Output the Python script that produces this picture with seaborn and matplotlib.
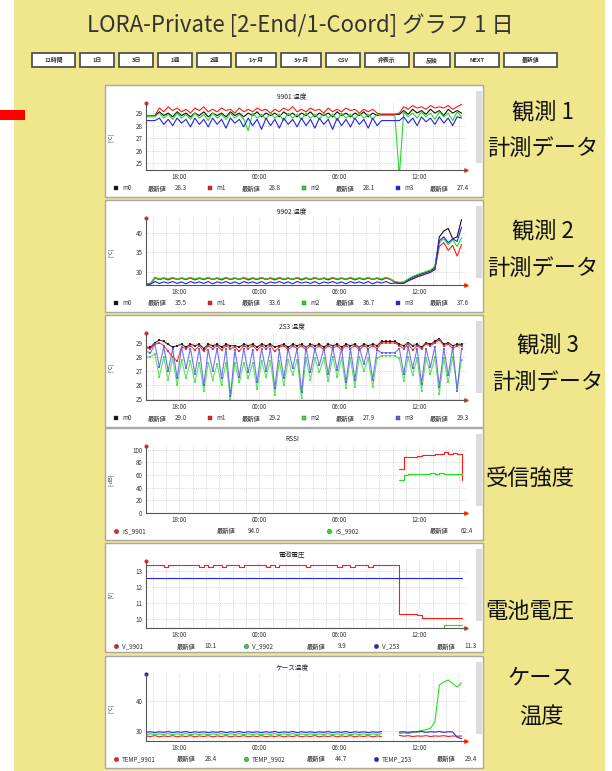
# -*- coding: utf-8 -*-
# LORA-Private グラフ1日 画面の再現
import numpy as np
import pandas as pd
import matplotlib
matplotlib.use("Agg")
import matplotlib.pyplot as plt
import matplotlib.dates as mdates
from matplotlib.patches import Rectangle
import seaborn as sns

sns.set_style("white")
plt.rcParams['font.family'] = ['Noto Sans CJK JP', 'DejaVu Sans']

# 時刻 (20分毎, 15:30 開始)
tiempos = pd.date_range("2019-05-20 15:30", periods=72, freq="20min")

# ---- 観測1 (9901 温度) ----
t1_m0 = [28.8, 28.8, 28.8, 29.1, 28.8, 29.0, 28.7, 29.1, 28.8, 29.0, 28.7, 29.0,
         28.8, 29.1, 28.7, 29.0, 28.8, 29.0, 28.7, 29.1, 28.8, 29.0, 28.7, 29.0,
         28.8, 29.1, 28.7, 29.0, 28.8, 29.0, 28.7, 29.1, 28.8, 29.0, 28.7, 29.0,
         28.8, 29.1, 28.7, 29.0, 28.8, 29.0, 28.7, 29.1, 28.8, 29.0, 28.7, 29.0,
         28.8, 29.1, 28.7, 29.0, 28.8, 28.9, 28.9, 28.9, 28.9, 28.9, 29.2, 28.9,
         29.3, 29.0, 29.2, 28.9, 29.3, 29.0, 29.2, 28.8, 29.3, 29.0, 29.2, 29.0]
t1_m1 = [28.8, 28.8, 28.8, 29.4, 29.1, 29.5, 29.2, 29.4, 29.1, 29.3, 29.0, 29.4,
         29.2, 29.5, 29.1, 29.3, 29.1, 29.4, 29.2, 29.3, 29.0, 29.4, 29.1, 29.3,
         29.1, 29.4, 29.2, 29.3, 29.0, 29.3, 29.1, 29.4, 29.2, 29.5, 29.1, 29.3,
         29.1, 29.4, 29.2, 29.3, 29.0, 29.4, 29.1, 29.3, 29.1, 29.4, 29.2, 29.3,
         29.0, 29.3, 29.1, 29.3, 29.0, 28.9, 28.9, 28.9, 28.9, 29.0, 29.5, 29.3,
         29.6, 29.4, 29.5, 29.3, 29.6, 29.4, 29.5, 29.4, 29.6, 29.3, 29.5, 29.7]
t1_m2 = [28.7, 28.7, 28.7, 29.0, 28.6, 28.9, 28.5, 29.0, 28.6, 28.9, 28.5, 29.0,
         28.6, 28.9, 28.4, 29.0, 28.6, 28.9, 28.5, 29.0, 28.6, 28.9, 28.5, 27.6,
         29.0, 28.6, 28.9, 28.5, 29.0, 28.6, 28.9, 28.4, 29.0, 28.6, 28.9, 28.5,
         29.0, 28.6, 28.9, 28.5, 29.0, 28.6, 28.9, 28.4, 29.0, 28.6, 28.9, 28.5,
         29.0, 28.6, 28.9, 28.5, 28.9, 28.8, 28.8, 28.8, 28.8, 24.0, 29.1, 28.7,
         29.0, 28.6, 29.1, 28.7, 29.0, 28.5, 29.1, 28.7, 29.0, 28.4, 29.1, 28.7]
t1_m3 = [28.4, 28.4, 28.4, 28.6, 28.1, 28.5, 28.0, 28.6, 28.2, 28.5, 27.9, 28.6,
         28.1, 28.5, 27.9, 28.6, 28.1, 28.5, 27.8, 28.6, 28.2, 28.5, 27.9, 28.6,
         28.0, 28.5, 27.7, 28.6, 28.0, 28.5, 27.8, 28.6, 28.1, 28.5, 27.9, 28.6,
         28.0, 28.5, 27.8, 28.6, 28.1, 28.5, 27.7, 28.6, 28.0, 28.5, 27.9, 28.6,
         28.1, 28.5, 27.8, 28.6, 28.0, 28.4, 28.4, 28.4, 28.4, 28.4, 28.7, 28.2,
         28.6, 28.0, 28.7, 28.3, 28.6, 28.1, 28.7, 28.2, 28.6, 28.0, 28.7, 28.6]

# ---- 観測2 (9902 温度) ----
t2_m0 = [26.8, 26.8, 28.4, 28.0, 28.3, 27.9, 28.4, 28.0, 28.3, 28.0, 28.4, 27.9,
         28.3, 28.0, 28.4, 28.0, 28.3, 27.9, 28.4, 28.0, 28.3, 28.0, 28.4, 27.9,
         28.3, 28.0, 28.4, 28.0, 28.3, 27.9, 28.4, 28.0, 28.3, 28.0, 28.4, 27.9,
         28.3, 28.0, 28.4, 28.0, 28.3, 27.9, 28.4, 28.0, 28.3, 28.0, 28.4, 27.9,
         28.3, 28.0, 28.4, 28.0, 28.3, 27.9, 28.4, 28.0, 27.3, 27.1, 27.2, 27.9,
         28.5, 29.0, 29.4, 29.8, 30.2, 31.0, 39.0, 40.5, 41.2, 38.5, 39.0, 43.5]
t2_m1 = [26.8, 26.8, 28.3, 27.9, 28.2, 27.8, 28.3, 27.9, 28.2, 27.9, 28.3, 27.8,
         28.2, 27.9, 28.3, 27.9, 28.2, 27.8, 28.3, 27.9, 28.2, 27.9, 28.3, 27.8,
         28.2, 27.9, 28.3, 27.9, 28.2, 27.8, 28.3, 27.9, 28.2, 27.9, 28.3, 27.8,
         28.2, 27.9, 28.3, 27.9, 28.2, 27.8, 28.3, 27.9, 28.2, 27.9, 28.3, 27.8,
         28.2, 27.9, 28.3, 27.9, 28.2, 27.8, 28.3, 27.9, 27.2, 27.0, 27.1, 27.6,
         28.1, 28.6, 29.0, 29.4, 29.8, 30.6, 36.5, 37.5, 35.5, 36.8, 34.0, 37.0]
t2_m2 = [26.9, 26.9, 28.5, 28.1, 28.4, 28.1, 28.5, 28.0, 28.4, 28.1, 28.5, 28.1,
         28.4, 28.1, 28.5, 28.0, 28.4, 28.1, 28.5, 28.1, 28.4, 28.0, 28.5, 28.1,
         28.4, 28.1, 28.5, 28.0, 28.4, 28.1, 28.5, 28.1, 28.4, 28.0, 28.5, 28.1,
         28.4, 28.1, 28.5, 28.0, 28.4, 28.1, 28.5, 28.1, 28.4, 28.0, 28.5, 28.1,
         28.4, 28.1, 28.5, 28.0, 28.4, 28.1, 28.5, 28.1, 27.4, 27.2, 27.3, 28.1,
         28.7, 29.2, 29.6, 30.0, 30.4, 31.3, 37.5, 38.5, 37.0, 38.2, 36.5, 38.8]
t2_m3 = [26.7, 26.7, 27.4, 26.9, 27.3, 27.0, 27.4, 26.9, 27.3, 26.8, 27.4, 27.0,
         27.3, 26.9, 27.4, 26.8, 27.3, 27.0, 27.4, 26.9, 27.3, 26.8, 27.4, 27.0,
         27.3, 26.9, 27.4, 26.8, 27.3, 27.0, 27.4, 26.9, 27.3, 26.8, 27.4, 27.0,
         27.3, 26.9, 27.4, 26.8, 27.3, 27.0, 27.4, 26.9, 27.3, 26.8, 27.4, 27.0,
         27.3, 26.9, 27.4, 26.8, 27.3, 27.0, 27.4, 26.9, 27.0, 26.9, 26.9, 27.6,
         28.1, 28.6, 29.0, 29.4, 29.8, 30.5, 38.0, 39.0, 37.5, 38.5, 37.8, 41.5]

# ---- 観測3 (2S3 温度) ----
t3_m0 = [28.7, 28.7, 29.0, 29.2, 29.1, 28.9, 28.7, 28.8, 28.9, 28.7, 28.9, 28.8,
         28.9, 28.6, 28.9, 28.8, 28.9, 28.7, 28.9, 28.8, 28.8, 28.7, 28.9, 28.8,
         28.9, 28.7, 28.9, 28.8, 28.9, 28.7, 28.8, 28.9, 28.7, 28.9, 28.8, 28.9,
         28.7, 28.9, 28.8, 28.9, 28.7, 28.9, 28.8, 28.9, 28.7, 28.9, 28.8, 28.9,
         28.7, 28.9, 28.8, 28.9, 28.8, 29.1, 29.1, 29.1, 29.1, 28.9, 28.8, 29.0,
         28.8, 28.9, 28.7, 29.0, 28.9, 29.1, 29.3, 28.9, 29.0, 28.8, 28.9, 28.9]
t3_m1 = [28.6, 28.6, 28.9, 29.0, 28.8, 28.4, 28.0, 27.7, 28.7, 28.6, 28.8, 28.5,
         28.8, 28.4, 28.8, 28.6, 28.8, 28.5, 28.8, 28.6, 28.7, 28.4, 28.8, 28.6,
         28.8, 28.5, 28.8, 28.6, 28.8, 28.4, 28.7, 28.8, 28.5, 28.8, 28.6, 28.8,
         28.5, 28.8, 28.6, 28.8, 28.5, 28.8, 28.6, 28.8, 28.5, 28.8, 28.6, 28.8,
         28.5, 28.8, 28.6, 28.8, 28.6, 29.0, 29.0, 29.0, 29.0, 28.8, 28.6, 28.9,
         28.5, 28.8, 28.6, 28.9, 28.8, 29.0, 29.2, 28.8, 28.9, 28.6, 28.8, 28.8]
t3_m2 = [28.0, 28.0, 28.2, 26.6, 28.0, 26.4, 27.9, 26.0, 27.8, 26.5, 27.7, 26.2,
         27.6, 25.6, 27.6, 26.4, 27.5, 26.0, 27.6, 25.0, 27.6, 26.2, 27.6, 26.5,
         27.6, 25.7, 27.7, 26.6, 27.7, 25.3, 27.7, 26.0, 27.8, 26.7, 27.8, 25.1,
         27.9, 26.4, 27.9, 26.9, 27.9, 26.3, 28.0, 26.6, 27.9, 25.8, 27.9, 25.9,
         28.0, 27.0, 27.9, 25.9, 27.9, 28.1, 28.1, 28.1, 28.1, 27.9, 26.3, 28.0,
         26.7, 27.9, 25.6, 27.9, 26.8, 28.0, 25.4, 27.9, 26.2, 28.0, 25.8, 27.8]
t3_m3 = [28.4, 28.3, 28.9, 27.3, 28.7, 27.0, 28.6, 26.5, 28.7, 27.2, 28.6, 26.8,
         28.6, 26.0, 28.5, 27.0, 28.6, 26.5, 28.6, 25.2, 28.5, 26.6, 28.6, 26.9,
         28.5, 26.2, 28.6, 27.0, 28.6, 25.8, 28.5, 26.5, 28.6, 27.2, 28.6, 25.5,
         28.7, 26.9, 28.6, 27.4, 28.6, 26.8, 28.7, 27.1, 28.6, 26.2, 28.6, 26.4,
         28.7, 27.5, 28.6, 26.4, 28.5, 28.3, 28.3, 28.3, 28.3, 28.6, 26.8, 28.7,
         27.2, 28.6, 26.1, 28.6, 27.3, 28.7, 25.9, 28.6, 26.7, 28.7, 25.6, 28.6]

# ---- 受信強度 (RSSI, 19:00 以降のみ) ----
rssi_inicio = 57
rssi_9901 = [70, 88, 88, 89, 90, 91, 92, 92, 94, 93, 96, 93, 95, 94, 52]
rssi_9902 = [52, 60, 61, 61, 62, 62, 62, 63, 62, 63, 62, 62, 61, 61, 60]

# ---- 電池電圧 ----
v_9901 = [13.4, 13.4, 13.4, 13.4, 13.25, 13.4, 13.4, 13.4, 13.4, 13.4, 13.4, 13.4,
          13.25, 13.4, 13.25, 13.4, 13.4, 13.25, 13.4, 13.4, 13.4, 13.25, 13.4, 13.4,
          13.4, 13.4, 13.4, 13.25, 13.4, 13.25, 13.4, 13.4, 13.4, 13.4, 13.4, 13.4,
          13.25, 13.4, 13.4, 13.4, 13.4, 13.4, 13.4, 13.25, 13.4, 13.4, 13.25, 13.4,
          13.4, 13.4, 13.25, 13.4, 13.4, 13.4, 13.4, 13.4, 13.4, 10.3, 10.3, 10.3,
          10.3, 10.25, 10.1, 10.1, 10.1, 10.1, 10.1, 10.1, 10.1, 10.1, 10.1, 10.1]
v_9902 = [9.47, 9.47, 9.47, 9.47, 9.47, 9.47, 9.47, 9.47, 9.47, 9.47, 9.47, 9.47,
          9.47, 9.47, 9.47, 9.47, 9.47, 9.47, 9.47, 9.47, 9.47, 9.47, 9.47, 9.47,
          9.47, 9.47, 9.47, 9.47, 9.47, 9.47, 9.47, 9.47, 9.47, 9.47, 9.47, 9.47,
          9.47, 9.47, 9.47, 9.47, 9.47, 9.47, 9.47, 9.47, 9.47, 9.47, 9.47, 9.47,
          9.47, 9.47, 9.47, 9.47, 9.47, 9.47, 9.47, 9.47, 9.47, 9.47, 9.47, 9.47,
          9.47, 9.47, 9.47, 9.47, 9.47, 9.47, 9.47, 9.65, 9.65, 9.65, 9.65, 9.65]
v_253 = [12.6, 12.6, 12.6, 12.6, 12.6, 12.6, 12.6, 12.6, 12.6, 12.6, 12.6, 12.6,
         12.6, 12.6, 12.6, 12.6, 12.6, 12.6, 12.6, 12.6, 12.6, 12.6, 12.6, 12.6,
         12.6, 12.6, 12.6, 12.6, 12.6, 12.6, 12.6, 12.6, 12.6, 12.6, 12.6, 12.6,
         12.6, 12.6, 12.6, 12.6, 12.6, 12.6, 12.6, 12.6, 12.6, 12.6, 12.6, 12.6,
         12.6, 12.6, 12.6, 12.6, 12.6, 12.6, 12.6, 12.6, 12.6, 12.6, 12.6, 12.6,
         12.6, 12.6, 12.6, 12.6, 12.6, 12.6, 12.6, 12.6, 12.6, 12.6, 12.6, 12.6]

# ---- ケース温度 ----
nan = np.nan
temp_9901 = [28.4, 28.2, 28.5, 28.1, 28.4, 28.2, 28.5, 28.1, 28.4, 28.2, 28.5, 28.1,
             28.4, 28.2, 28.5, 28.1, 28.4, 28.2, 28.5, 28.1, 28.4, 28.2, 28.5, 28.1,
             28.4, 28.2, 28.5, 28.1, 28.4, 28.2, 28.5, 28.1, 28.4, 28.2, 28.5, 28.1,
             28.4, 28.2, 28.5, 28.1, 28.4, 28.2, 28.5, 28.1, 28.4, 28.2, 28.5, 28.1,
             28.4, 28.2, 28.5, 28.1, 28.4, 28.2, nan, nan, nan, 28.6, 28.3, 28.5,
             28.2, 28.4, 28.3, 28.5, 28.2, 28.4, 28.3, 28.5, 28.2, 28.4, 28.3, 28.4]
temp_9902 = [28.9, 29.1, 28.8, 29.1, 28.9, 29.2, 28.8, 29.1, 28.9, 29.2, 28.8, 29.1,
             28.9, 29.1, 28.8, 29.1, 28.9, 29.2, 28.8, 29.1, 28.9, 29.2, 28.8, 29.1,
             28.9, 29.1, 28.8, 29.1, 28.9, 29.2, 28.8, 29.1, 28.9, 29.2, 28.8, 29.1,
             28.9, 29.1, 28.8, 29.1, 28.9, 29.2, 28.8, 29.1, 28.9, 29.2, 28.8, 29.1,
             28.9, 29.1, 28.8, 29.1, 28.9, 29.2, nan, nan, nan, 29.3, 29.4, 29.2,
             29.6, 29.9, 30.2, 30.5, 31.0, 33.0, 45.5, 46.5, 47.2, 46.0, 44.8, 46.2]
temp_253 = [29.6, 29.8, 29.5, 29.8, 29.6, 29.9, 29.5, 29.8, 29.6, 29.9, 29.5, 29.8,
            29.6, 29.8, 29.5, 29.8, 29.6, 29.9, 29.5, 29.8, 29.6, 29.9, 29.5, 29.8,
            29.6, 29.8, 29.5, 29.8, 29.6, 29.9, 29.5, 29.8, 29.6, 29.9, 29.5, 29.8,
            29.6, 29.8, 29.5, 29.8, 29.6, 29.9, 29.5, 29.8, 29.6, 29.9, 29.5, 29.8,
            29.6, 29.8, 29.5, 29.8, 29.6, 29.9, nan, nan, nan, 29.7, 29.8, 29.6,
            29.8, 29.7, 29.9, 29.6, 29.8, 29.7, 29.9, 29.6, 29.8, 29.7, 28.0, 27.5]

# 凡例の最新値
ult_1 = ["28.3", "28.8", "28.1", "27.4"]
ult_2 = ["35.5", "33.6", "36.7", "37.6"]
ult_3 = ["29.0", "29.2", "27.9", "29.3"]
ult_4 = ["94.0", "62.4"]
ult_5 = ["10.1", "9.9", "11.3"]
ult_6 = ["28.4", "44.7", "29.4"]

# ボタン
botones = ["12時間", "1日", "3日", "1週", "2週", "1ヶ月", "3ヶ月", "CSV",
           "非表示", "反映", "NEXT", "最新値"]
botones_x = [(32, 75), (80, 114), (119, 153), (158, 192), (197, 231), (236, 276),
             (281, 321), (326, 360), (365, 409), (414, 450), (455, 499), (504, 557)]

NEGRO, ROJO, VERDE, AZUL = "#111111", "#ff1a1a", "#22dd22", "#2222ee"

W, H = 612, 771
fig = plt.figure(figsize=(W / 100, H / 100), dpi=100)
fig.patch.set_facecolor("white")
fondo = fig.add_axes([0, 0, 1, 1])
fondo.set_xlim(0, W)
fondo.set_ylim(H, 0)
fondo.axis("off")

fondo.add_patch(Rectangle((14, 0), 591, H, fc="#f0e68c", ec="none"))
fondo.add_patch(Rectangle((0, 110), 25, 10, fc="#ff0000", ec="none"))

fondo.text(300, 25, "LORA-Private [2-End/1-Coord] グラフ 1 日", ha="center", va="center",
           fontsize=16, color="#333333")

for etiqueta, (x0, x1) in zip(botones, botones_x):
    fondo.add_patch(Rectangle((x0, 53), x1 - x0, 14, fc="white", ec="#444444", lw=1.2))
    fondo.text((x0 + x1) / 2, 60, etiqueta, ha="center", va="center", fontsize=4.2,
               fontweight="bold", color="#333333")

lados = [("観測 1", 543, 112), ("計測データ", 543, 148),
         ("観測 2", 543, 231), ("計測データ", 543, 268),
         ("観測 3", 548, 345), ("計測データ", 548, 382),
         ("受信強度", 530, 478), ("電池電圧", 530, 612),
         ("ケース", 541, 678), ("温度", 541, 716)]
for txt, x, y in lados:
    fondo.text(x, y, txt, ha="center", va="center", fontsize=16, color="#111111")


def frac(x0, y0, x1, y1):
    return [x0 / W, 1 - y1 / H, (x1 - x0) / W, (y1 - y0) / H]


def grafico(top, bottom, titulo, unidad, nombres, series, colores, ylim, yticks,
            ultimos, leyenda, marca_ley, x=tiempos, marca_eje="#ff2020", **kw):
    fondo.add_patch(Rectangle((105, top), 378, bottom - top, fc="white", ec="#a8a8a8", lw=1))
    fondo.add_patch(Rectangle((476, top + 6), 6, 72, fc="#dcdcdc", ec="none"))
    fondo.text(292, top + 11, titulo, ha="center", va="center", fontsize=4.8, color="#222222")
    fondo.text(111, top + 52, unidad, ha="center", va="center", rotation=90, fontsize=4,
               color="#333333")

    filas = []
    for nombre, valores in zip(nombres, series):
        v = np.array(valores, dtype=float)
        filas.append(pd.DataFrame({"t": x, "v": v, "s": nombre,
                                   "seg": np.cumsum(np.isnan(v))}))
    df = pd.concat(filas).dropna()

    ax = fig.add_axes(frac(146, top + 18, 466, top + 85))
    ax.patch.set_alpha(0)
    sns.lineplot(data=df, x="t", y="v", hue="s", units="seg", estimator=None,
                 palette=dict(zip(nombres, colores)), legend=False, ax=ax, **kw)
    t0 = tiempos[0]
    ax.set_xlim(t0, t0 + pd.Timedelta(hours=24))
    ax.set_ylim(*ylim)
    ax.set_yticks(yticks)
    ax.xaxis.set_major_locator(mdates.HourLocator(byhour=[0, 6, 12, 18]))
    ax.xaxis.set_minor_locator(mdates.HourLocator(interval=1))
    ax.xaxis.set_major_formatter(mdates.DateFormatter("%H:%M"))
    ax.grid(True, which="both", ls=":", color="#bbbbbb", lw=0.5)
    ax.tick_params(which="both", length=0, labelsize=4.5, colors="#333333", pad=2.5)
    ax.set_xlabel("")
    ax.set_ylabel("")
    for lado in ["top", "right"]:
        ax.spines[lado].set_visible(False)
    for lado in ["left", "bottom"]:
        ax.spines[lado].set_color("#555555")
        ax.spines[lado].set_linewidth(0.8)
    ax.plot([0], [1], "o", ms=2, color=marca_eje, transform=ax.transAxes, clip_on=False)
    ax.plot([1], [0], ">", ms=2.5, color="#ff3300", transform=ax.transAxes, clip_on=False)

    ancho, off_nuevo, off_valor = leyenda
    ly = top + 103
    for k, (nombre, c, val) in enumerate(zip(nombres, colores, ultimos)):
        gx = 113 + ancho * k
        fondo.scatter([gx + 3], [ly], marker=marca_ley, s=10, c=c, edgecolors="#444444",
                      linewidths=0.3, zorder=5)
        fondo.text(gx + 9, ly, nombre, va="center", fontsize=4.5, color="#333333")
        fondo.text(gx + off_nuevo, ly, "最新値", va="center", fontsize=4.5,
                   fontweight="bold", color="#555555")
        fondo.text(gx + off_valor, ly, val, va="center", ha="right", fontsize=4.5,
                   color="#333333")
    return ax


grafico(85, 197, "9901 温度", "[°C]", ["m0", "m1", "m2", "m3"],
        [t1_m0, t1_m1, t1_m2, t1_m3], [NEGRO, ROJO, VERDE, AZUL],
        (24.47, 29.8), [25, 26, 27, 28, 29], ult_1, (94, 35, 74), "s", lw=0.8)

grafico(200, 312, "9902 温度", "[°C]", ["m0", "m1", "m2", "m3"],
        [t2_m0, t2_m1, t2_m2, t2_m3], [NEGRO, ROJO, VERDE, AZUL],
        (26.5, 43.9), [30, 35, 40], ult_2, (94, 35, 74), "s", lw=0.8)

grafico(315, 427, "2S3 温度", "[°C]", ["m0", "m1", "m2", "m3"],
        [t3_m0, t3_m1, t3_m2, t3_m3], [NEGRO, ROJO, "#44e044", "#5a5af0"],
        (24.95, 29.7), [25, 26, 27, 28, 29], ult_3, (94, 35, 74), "s",
        lw=0.8, marker="s", markersize=1.8, markeredgewidth=0, alpha=0.85)

grafico(428, 540, "RSSI", "[-dB]", ["rS_9901", "rS_9902"],
        [rssi_9901, rssi_9902], [ROJO, VERDE],
        (0, 106), [0, 20, 40, 60, 80, 100], ult_4, (213, 104, 147), "o",
        x=tiempos[rssi_inicio:], lw=0.8, drawstyle="steps-post")

grafico(543, 652, "電池電圧", "[V]", ["V_9901", "V_9902", "V_253"],
        [v_9901, v_9902, v_253], [ROJO, VERDE, AZUL],
        (9.45, 13.65), [10, 11, 12, 13], ult_5, (130, 64, 104), "o",
        lw=0.8, drawstyle="steps-post")

grafico(656, 768, "ケース温度", "[°C]", ["TEMP_9901", "TEMP_9902", "TEMP_253"],
        [temp_9901, temp_9902, temp_253], [ROJO, VERDE, AZUL],
        (26.7, 49.2), [30, 40], ult_6, (130, 64, 104), "o",
        marca_eje="#2222ee", lw=0.8)

fig.savefig("out.png", dpi=100)
